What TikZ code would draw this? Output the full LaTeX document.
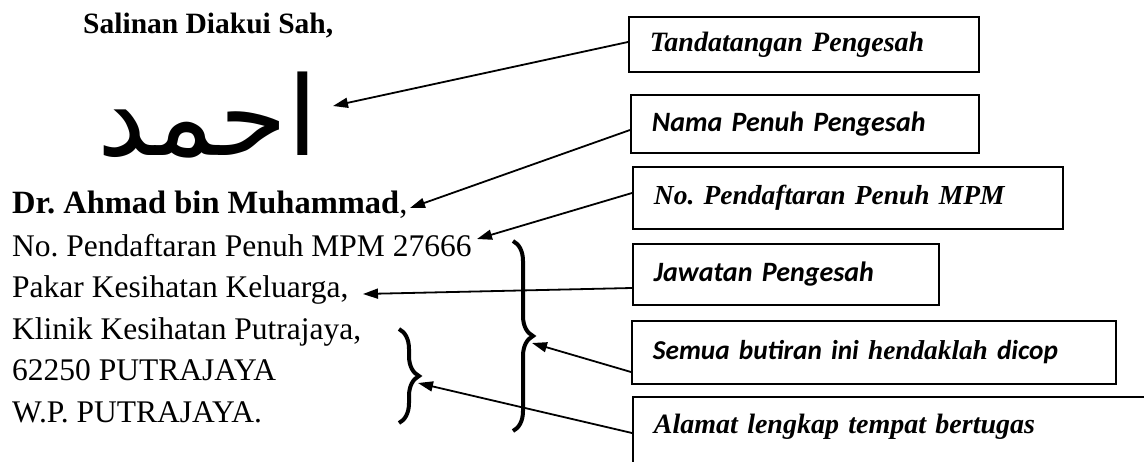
\documentclass[tikz,border=0pt]{standalone}
\usepackage{fontspec}
\setmainfont{Liberation Serif}
\newfontfamily\tnr{Liberation Serif}
\newfontfamily\carl{Carlito}
\newfontfamily\arabicfont[Script=Arabic]{DejaVu Sans}
\TeXXeTstate=1
\usetikzlibrary{arrows.meta,decorations.pathreplacing,calc}
\tikzset{
  lbox/.style={draw, line width=1.8pt, anchor=north west, inner xsep=21pt, inner ysep=0pt, align=left},
  serbi/.style={font=\tnr\fontsize{28}{32}\selectfont\bfseries\itshape},
  sanbi/.style={font=\carl\fontsize{28}{32}\selectfont\bfseries\itshape},
  ltxt/.style={anchor=base west, inner sep=0pt, font=\tnr\fontsize{31.5}{36}\selectfont},
  arr/.style={line width=1.8pt, -{Triangle[length=15pt,width=10pt]}},
  brc/.style={decorate, decoration={brace, amplitude=20pt}, line width=4pt}
}
\begin{document}
\frenchspacing
\begin{tikzpicture}[x=1pt,y=-1pt]
\useasboundingbox (0,0) rectangle (1144,461);
\clip (0,0) rectangle (1144,461);

% left column
\node[anchor=base west, inner sep=0pt, font=\tnr\fontsize{29.5}{34}\selectfont\bfseries] (head) at (83,33) {Salinan Diakui Sah,};
\node[anchor=base east, inner sep=0pt, font=\arabicfont\fontsize{110}{110}\selectfont] (sig) at (318,155) {\beginR احمد\endR};
\node[ltxt, font=\tnr\fontsize{32.5}{36}\selectfont] (name) at (12,213) {\textbf{Dr. Ahmad bin Muhammad},};
\node[ltxt] (reg) at (12,256) {No. Pendaftaran Penuh MPM 27666};
\node[ltxt] (post) at (12,297.5) {Pakar Kesihatan Keluarga,};
\node[ltxt] (addr1) at (12,339) {Klinik Kesihatan Putrajaya,};
\node[ltxt] (addr2) at (12,380.5) {62250 PUTRAJAYA};
\node[ltxt] (addr3) at (12,422) {W.P. PUTRAJAYA.};

% braces
\coordinate (bigT) at (513,241);
\coordinate (bigB) at (513,431);
\coordinate (smT) at (399,329);
\coordinate (smB) at (399,423);
\draw[brc] (bigT) -- (bigB);
\draw[brc] (smT) -- (smB);

% label boxes
\node[lbox, serbi, text width=308pt, minimum height=55pt] (b1) at (628,16) {Tandatangan Pengesah};
\node[lbox, sanbi, text width=306pt, minimum height=58pt] (b2) at (630,94) {Nama Penuh Pengesah};
\node[lbox, font=\tnr\fontsize{27.5}{32}\selectfont\bfseries\itshape, text width=388pt, minimum height=62pt] (b3) at (632,166) {No. Pendaftaran Penuh MPM};
\node[lbox, sanbi, text width=264pt, minimum height=61pt] (b4) at (632,243) {Jawatan Pengesah};
\node[lbox, font=\carl\fontsize{27.3}{32}\selectfont\bfseries\itshape, text width=442pt, minimum height=63pt] (b5) at (631,320) {Semua butiran ini {\tnr hendaklah} dicop};
\node[lbox, serbi, text width=520pt, text height=22pt, text depth=60pt, inner ysep=15pt] (b6) at (632,396) {Alamat lengkap tempat bertugas};

% arrow targets
\coordinate (t1) at (333,106);
\coordinate (t2) at (410,208);
\coordinate (t3) at (477,239);
\coordinate (t4) at (363,294);
\coordinate (t5) at (532,343);
\coordinate (t6) at (418,383);

\draw[arr] ($(b1.north west)+(0,26)$) -- (t1);
\draw[arr] ($(b2.north west)+(0,36)$) -- (t2);
\draw[arr] ($(b3.north west)+(0,27)$) -- (t3);
\draw[arr] ($(b4.north west)+(0,45)$) -- (t4);
\draw[arr] ($(b5.north west)+(0,52)$) -- (t5);
\draw[arr] ($(b6.north west)+(0,37)$) -- (t6);
\end{tikzpicture}
\end{document}
